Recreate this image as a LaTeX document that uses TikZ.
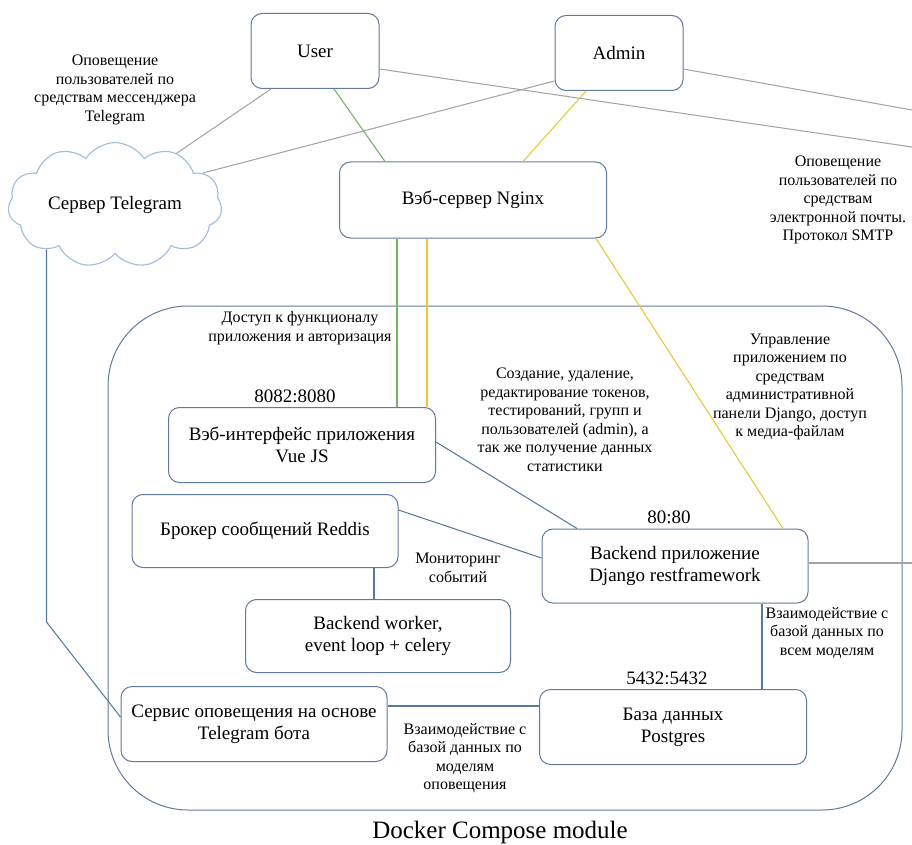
\documentclass[tikz,border=0pt]{standalone}
\usepackage{fontspec}
\setmainfont{Liberation Serif}
\usepackage{xcolor}
\usetikzlibrary{shapes.symbols}

\definecolor{boxline}{HTML}{62799E}
\definecolor{wireblue}{HTML}{5877A3}
\definecolor{wiregrey}{HTML}{A4A4A4}
\definecolor{wiregreen}{HTML}{74B266}
\definecolor{wireyellow}{HTML}{F0C53A}
\definecolor{cloudline}{HTML}{9FBBDD}

\begin{document}
\begin{tikzpicture}[x=1pt,y=-1pt,
		box/.style={draw=boxline, line width=1pt, rounded corners=11pt, fill=white, align=center, inner sep=0pt, font=\fontsize{19}{22}\selectfont},
		lbl/.style={align=center, inner sep=0pt, font=\fontsize{16}{18.5}\selectfont},
		portlbl/.style={inner sep=0pt, font=\fontsize{19}{22}\selectfont},
		wire/.style={draw=wireblue, line width=1.05pt},
		greyw/.style={draw=wiregrey, line width=1.05pt},
		greenw/.style={draw=wiregreen, line width=1.1pt},
		yelloww/.style={draw=wireyellow, line width=1.1pt}]
	\useasboundingbox (0,0) rectangle (912,845);
	
	% docker compose module
	\draw[boxline, line width=1pt, rounded corners=80pt] (108,306) rectangle (902,810);
	\node[inner sep=0pt, font=\fontsize{25}{28}\selectfont] (title) at (500,832) {Docker Compose module};
	
	% outside
	\node[box, minimum width=128pt, minimum height=75pt] (user) at (315,51) {User};
	\node[box, minimum width=128pt, minimum height=75pt] (admin) at (619,53) {Admin};
	\node[box, minimum width=267pt, minimum height=76pt] (nginx) at (473,200) {Вэб-сервер Nginx};
	\node[cloud, cloud puffs=11, cloud puff arc=115, aspect=1.9, draw=cloudline, line width=1.1pt, fill=white,
		minimum width=214pt, minimum height=114pt, inner sep=0pt, font=\fontsize{19}{22}\selectfont] (tgserver) at (115,205) {Сервер Telegram};
	\foreach \n/\x/\y in {smtpA/912/147, smtpB/912/110, smtpC/912/563, tgturn/50/622}{
		\coordinate (\n) at (\x,\y);
	}
	
	% inside
	\node[box, minimum width=267pt, minimum height=75pt] (vue) at (302,445) {Вэб-интерфейс приложения\\Vue JS};
	\node[box, minimum width=266pt, minimum height=73pt] (reddis) at (265,531) {Брокер сообщений Reddis};
	\node[box, minimum width=266pt, minimum height=74pt] (django) at (675,566) {Backend приложение\\Django restframework};
	\node[box, minimum width=265pt, minimum height=73pt] (worker) at (378,636) {Backend worker,\\event loop + celery};
	\node[box, minimum width=266pt, minimum height=75pt] (tgbot) at (254,724) {Сервис оповещения на основе\\Telegram бота};
	\node[box, minimum width=267pt, minimum height=75pt] (db) at (673,727) {База данных\\Postgres};
	
	% ports
	\node[portlbl] (vueport) at (295,396) {8082:8080};
	\node[portlbl] (djangoport) at (669,517) {80:80};
	\node[portlbl] (dbport) at (667,678) {5432:5432};
	
	% labels
	\node[lbl] (tglbl) at (115,90) {Оповещение\\пользователей по\\средствам мессенджера\\Telegram};
	\node[lbl] (smtplbl) at (838,200) {Оповещение\\пользователей по\\средствам\\электронной почты.\\Протокол SMTP};
	\node[lbl] (accesslbl) at (300,328) {Доступ к функционалу\\приложения и авторизация};
	\node[lbl] (crudlbl) at (565,420) {Создание, удаление,\\редактирование токенов,\\тестирований, групп и\\пользователей (admin), а\\так же получение данных\\статистики};
	\node[lbl] (panellbl) at (790,387) {Управление\\приложением по\\средствам\\административной\\панели Django, доступ\\к медиа-файлам};
	\node[lbl] (monlbl) at (458,568) {Мониторинг\\событий};
	\node[lbl] (dballlbl) at (827,633) {Взаимодействие с\\базой данных по\\всем моделям};
	\node[lbl] (dbnotlbl) at (465,758) {Взаимодействие с\\базой данных по\\моделям\\оповещения};
	
	% grey: telegram and smtp
	\draw[greyw] ([xshift=-44pt]user.south) -- (tgserver.40);
	\draw[greyw] ([yshift=10pt]admin.south west) -- (tgserver.20);
	\draw[greyw] ([yshift=-18pt]user.east) -- (smtpA);
	\draw[greyw] ([yshift=-16pt]admin.east) -- (smtpB);
	\draw[greyw] ([yshift=3pt]django.east) -- (smtpC);
	
	% green: user, yellow: admin
	\draw[greenw] ([xshift=19pt]user.south) -- ([xshift=-88pt]nginx.north);
	\draw[greenw] ([xshift=-76pt]nginx.south) -- ([xshift=95pt]vue.north);
	\draw[yelloww] ([xshift=-33pt]admin.south) -- ([xshift=50pt]nginx.north);
	\draw[yelloww] ([xshift=-46pt]nginx.south) -- ([xshift=125pt]vue.north);
	\draw[yelloww] ([xshift=123pt]nginx.south) -- ([xshift=108pt]django.north);
	
	% blue: inside the module
	\draw[wire] ([yshift=3pt]vue.east) -- ([xshift=-98pt]django.north);
	\draw[wire] ([yshift=21pt]reddis.east) -- ([yshift=8pt]django.west);
	\draw[wire] ([xshift=109pt]reddis.south) -- ([xshift=-4pt]worker.north);
	\draw[wire] ([xshift=87pt]django.south) -- ([xshift=89pt]db.north);
	\draw[wire] ([yshift=18pt]tgbot.east) -- ([yshift=21pt]db.west);
	\draw[wire] (tgserver.213) -- (tgserver.213 |- tgturn) -- ([yshift=7pt]tgbot.west);
\end{tikzpicture}
\end{document}
